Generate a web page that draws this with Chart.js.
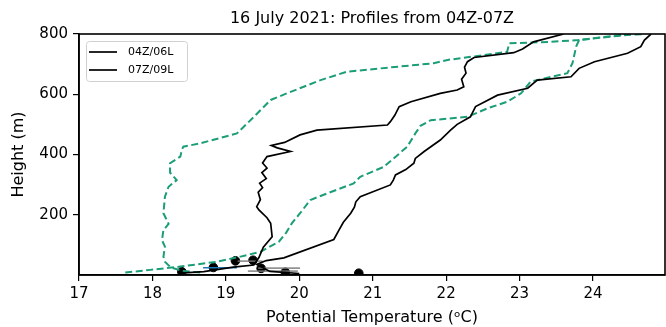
<!DOCTYPE html>
<html lang="en">
<head>
  <meta charset="UTF-8">
  <title>16 July 2021: Profiles from 04Z-07Z</title>
  <script src="https://cdn.jsdelivr.net/npm/chart.js@4.4.5/dist/chart.umd.min.js"></script>
  <style>
    html, body { margin: 0; padding: 0; background: #fff; overflow: hidden; }
    canvas { display: block; }
  </style>
</head>
<body>
  <canvas id="profileChart" width="666" height="327"></canvas>

  <script>
    // 04Z/06L profile (solid black, left)
    const temp04 = [18.38, 18.70, 19.10, 19.38, 19.45, 19.51, 19.63, 19.61, 19.56, 19.45, 19.42, 19.47, 19.44, 19.50, 19.46, 19.55, 19.49, 19.56, 19.50, 19.56, 19.88, 19.70, 19.62, 19.80, 20.01, 20.24, 21.20, 21.24, 21.30, 21.36, 21.52, 21.92, 22.15, 22.24, 22.21, 22.27, 22.25, 22.29, 22.38, 22.92, 23.04, 23.19, 23.60];
    const height04 = [6, 11, 26, 33, 58, 92, 127, 172, 190, 216, 227, 250, 275, 290, 305, 320, 340, 355, 372, 393, 410, 422, 430, 440, 465, 481, 498, 509, 530, 559, 575, 603, 614, 625, 650, 670, 690, 708, 722, 738, 750, 774, 800];

    // 07Z/09L profile (solid black, right)
    const temp07 = [20.00, 19.60, 19.42, 19.55, 19.79, 20.47, 20.54, 20.60, 20.70, 20.75, 20.77, 20.83, 21.24, 21.28, 21.31, 21.45, 21.56, 21.58, 21.70, 21.92, 22.06, 22.15, 22.33, 22.40, 22.70, 23.11, 23.24, 23.70, 23.81, 24.02, 24.47, 24.65, 24.70, 24.79];
    const height07 = [5, 12, 35, 48, 57, 118, 149, 175, 205, 225, 243, 260, 299, 315, 332, 350, 371, 387, 410, 448, 481, 500, 525, 559, 597, 620, 647, 658, 686, 708, 736, 758, 780, 800];

    // dashed green profile, left
    const tempG1 = [18.65, 18.40, 18.25, 18.17, 18.15, 18.17, 18.13, 18.15, 18.22, 18.15, 18.17, 18.22, 18.33, 18.24, 18.24, 18.38, 18.40, 18.42, 18.65, 19.15, 19.29, 19.61, 19.83, 20.06, 20.29, 20.65, 21.83, 22.02, 22.52, 22.83, 22.86, 23.43, 23.80, 24.50];
    const heightG1 = [8, 14, 25, 44, 61, 94, 116, 149, 170, 205, 260, 293, 315, 340, 371, 393, 415, 426, 437, 470, 503, 581, 603, 625, 647, 675, 703, 714, 730, 741, 769, 774, 780, 800];

    // dashed green profile, right
    const tempG2 = [17.63, 17.97, 18.38, 18.88, 19.20, 19.47, 19.72, 19.82, 19.90, 20.01, 20.15, 20.38, 20.74, 20.83, 21.15, 21.30, 21.47, 21.58, 21.65, 21.79, 22.29, 22.56, 22.83, 23.02, 23.15, 23.65, 23.72, 23.77, 23.81, 24.47, 24.70];
    const heightG2 = [8, 17, 28, 44, 61, 77, 110, 140, 172, 205, 249, 271, 304, 326, 359, 390, 426, 470, 495, 514, 525, 553, 575, 603, 642, 670, 703, 758, 780, 797, 800];

    // surface observations (dots) and their horizontal bars
    const obsTemp = [18.40, 18.83, 19.13, 19.37, 19.48, 19.81, 20.81];
    const obsHeight = [11, 25, 47, 49, 22, 9, 6];
    const barLow = [19.16, 19.44, 19.30];
    const barHigh = [19.50, 20.01, 19.98];
    const barHeight = [46, 23, 13];
    const blueLow = 18.69, blueHigh = 19.15, blueHeight = 24;

    const chartTitle = '16 July 2021: Profiles from 04Z-07Z';
    const legendNames = ['04Z/06L', '07Z/09L'];
    const xTicks = [17, 18, 19, 20, 21, 22, 23, 24];
    const yTicks = [200, 400, 600, 800];

    const green = '#1b9e77';
    const fontFamily = "'DejaVu Sans', sans-serif";

    function pairs(xs, ys) {
      return xs.map((x, i) => ({ x: x, y: ys[i] }));
    }

    function profile(label, xs, ys, color, dashed) {
      return {
        label: label,
        data: pairs(xs, ys),
        showLine: true,
        borderColor: color,
        borderWidth: dashed ? 2 : 1.7,
        borderDash: dashed ? [7, 3.5] : [],
        pointRadius: 0,
        tension: 0
      };
    }

    const datasets = [
      profile(legendNames[0], temp04, height04, '#000', false),
      profile(legendNames[1], temp07, height07, '#000', false)
    ];
    barLow.forEach((lo, i) => {
      datasets.push(profile('bar' + i, [lo, barHigh[i]], [barHeight[i], barHeight[i]], 'rgba(120,120,120,0.8)', false));
    });
    datasets.push(profile('blue', [blueLow, blueHigh], [blueHeight, blueHeight], '#1f77b4', false));
    datasets.push(profile('04Z dashed', tempG1, heightG1, green, true));
    datasets.push(profile('07Z dashed', tempG2, heightG2, green, true));
    datasets.push({
      label: 'obs',
      data: pairs(obsTemp, obsHeight),
      showLine: false,
      pointRadius: 4.3,
      pointBackgroundColor: '#000',
      pointBorderColor: '#000'
    });

    // matplotlib-like frame, title over the plot and legend box
    const framePlugin = {
      id: 'frame',
      afterDraw(chart) {
        const { ctx, chartArea: a } = chart;
        ctx.save();
        ctx.strokeStyle = '#000';
        ctx.lineWidth = 1.6;
        ctx.strokeRect(a.left, a.top, a.right - a.left, a.bottom - a.top);

        ctx.fillStyle = '#000';
        ctx.font = '16px ' + fontFamily;
        ctx.textAlign = 'center';
        ctx.textBaseline = 'middle';
        ctx.fillText(chartTitle, (a.left + a.right) / 2, 19);

        // legend
        const bx = a.left + 7, by = a.top + 7, bw = 101, bh = 40;
        ctx.fillStyle = 'rgba(255,255,255,0.85)';
        ctx.strokeStyle = '#d0d0d0';
        ctx.lineWidth = 1;
        ctx.beginPath();
        ctx.roundRect(bx + 0.5, by + 0.5, bw, bh, 3);
        ctx.fill();
        ctx.stroke();
        ctx.font = '11px ' + fontFamily;
        ctx.textAlign = 'left';
        legendNames.forEach((name, i) => {
          const y = by + 11 + i * 18;
          ctx.strokeStyle = '#000';
          ctx.lineWidth = 1.7;
          ctx.beginPath();
          ctx.moveTo(bx + 3, y);
          ctx.lineTo(bx + 31, y);
          ctx.stroke();
          ctx.fillStyle = '#000';
          ctx.fillText(name, bx + 42, y);
        });
        ctx.restore();
      }
    };

    new Chart(document.getElementById('profileChart'), {
      type: 'scatter',
      data: { datasets: datasets },
      plugins: [framePlugin],
      options: {
        responsive: false,
        animation: false,
        layout: { autoPadding: false, padding: { top: 34, right: 1, bottom: 0, left: 0 } },
        plugins: {
          legend: { display: false },
          tooltip: { enabled: false }
        },
        scales: {
          x: {
            type: 'linear',
            min: 17,
            max: 24.98,
            afterBuildTicks: (s) => { s.ticks = xTicks.map(v => ({ value: v })); },
            afterFit: (s) => { s.height = 52; },
            grid: { drawOnChartArea: false, drawTicks: true, tickLength: 6, color: '#000', lineWidth: 1.2 },
            border: { color: '#000', width: 1.6 },
            ticks: { color: '#000', padding: 4, font: { family: fontFamily, size: 15 } },
            title: {
              display: true,
              text: 'Potential Temperature (\u1D52C)',
              color: '#000',
              font: { family: fontFamily, size: 16 },
              padding: { top: 1, bottom: 0 }
            }
          },
          y: {
            type: 'linear',
            min: 0,
            max: 800,
            afterBuildTicks: (s) => { s.ticks = yTicks.map(v => ({ value: v })); },
            afterFit: (s) => { s.width = 79; },
            grid: { drawOnChartArea: false, drawTicks: true, tickLength: 6, color: '#000', lineWidth: 1.2 },
            border: { color: '#000', width: 1.6 },
            ticks: { color: '#000', padding: 5, font: { family: fontFamily, size: 15 } },
            title: {
              display: true,
              text: 'Height (m)',
              color: '#000',
              font: { family: fontFamily, size: 16 },
              padding: { top: 9, bottom: 0 }
            }
          }
        }
      }
    });
  </script>
</body>
</html>
